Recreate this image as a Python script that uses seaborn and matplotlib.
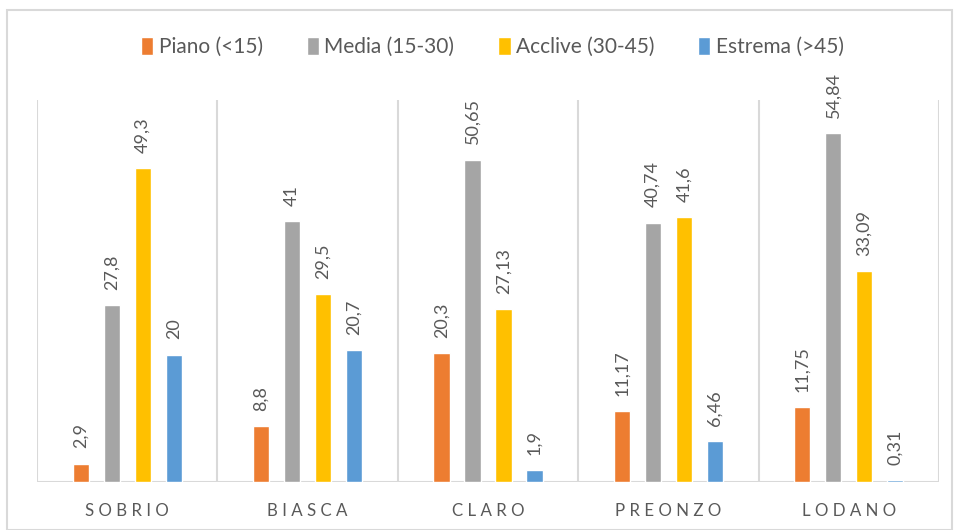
import numpy as np
import pandas as pd
import matplotlib.pyplot as plt
import seaborn as sns
from matplotlib.patches import Rectangle

# Data
sites = ["SOBRIO", "BIASCA", "CLARO", "PREONZO", "LODANO"]
classes = ["Piano (<15)", "Media (15-30)", "Acclive (30-45)", "Estrema (>45)"]
piano = [2.9, 8.8, 20.3, 11.17, 11.75]
media = [27.8, 41, 50.65, 40.74, 54.84]
acclive = [49.3, 29.5, 27.13, 41.6, 33.09]
estrema = [20, 20.7, 1.9, 6.46, 0.31]
colors = ["#ED7D31", "#A5A5A5", "#FFC000", "#5B9BD5"]

df = pd.DataFrame({
    "site": sites * 4,
    "classe": np.repeat(classes, len(sites)),
    "value": piano + media + acclive + estrema,
})

sns.set_style("white")
plt.rcParams["font.family"] = ["Lato", "DejaVu Sans"]
text_col = "#595959"
grid_col = "#D9D9D9"

fig = plt.figure(figsize=(9.56, 5.30), dpi=100)
ax = fig.add_axes([0.0387, 0.0906, 0.9435, 0.7205])

sns.barplot(data=df, x="site", y="value", hue="classe", order=sites,
            hue_order=classes, palette=colors, width=0.688, gap=0.48,
            saturation=1, ax=ax)

# value labels with comma decimals, rotated
for cont in ax.containers:
    labs = [f"{v:g}".replace(".", ",") for v in cont.datavalues]
    ax.bar_label(cont, labels=labs, rotation=90, padding=11,
                 fontsize=13, color=text_col)

ax.set_ylim(0, 60)
ax.set_xlim(-0.5, len(sites) - 0.5)
ax.set_yticks([])
ax.set_xlabel("")
ax.set_ylabel("")
for s in ax.spines.values():
    s.set_visible(False)
ax.axhline(0, color=grid_col, lw=1.5, zorder=0)
for x in np.arange(-0.5, len(sites), 1.0):
    ax.axvline(x, color=grid_col, lw=1.5, zorder=0)

ax.set_xticks(range(len(sites)))
ax.set_xticklabels([" ".join(s) for s in sites], fontsize=12.2,
                   color=text_col)
ax.tick_params(axis="x", length=0, pad=15)

handles, labels = ax.get_legend_handles_labels()
ax.legend_.remove()
fig.legend(handles, labels, loc="center", bbox_to_anchor=(0.515, 0.911),
           ncol=4, frameon=False, fontsize=15, handlelength=0.6,
           handleheight=0.9, handletextpad=0.25, columnspacing=2.1,
           labelcolor=text_col)

fig.patches.append(Rectangle((7 / 956, 0), 945 / 956, 520 / 530,
                             transform=fig.transFigure, fill=False,
                             edgecolor=grid_col, lw=1.5))

fig.savefig("out.png", dpi=100)
